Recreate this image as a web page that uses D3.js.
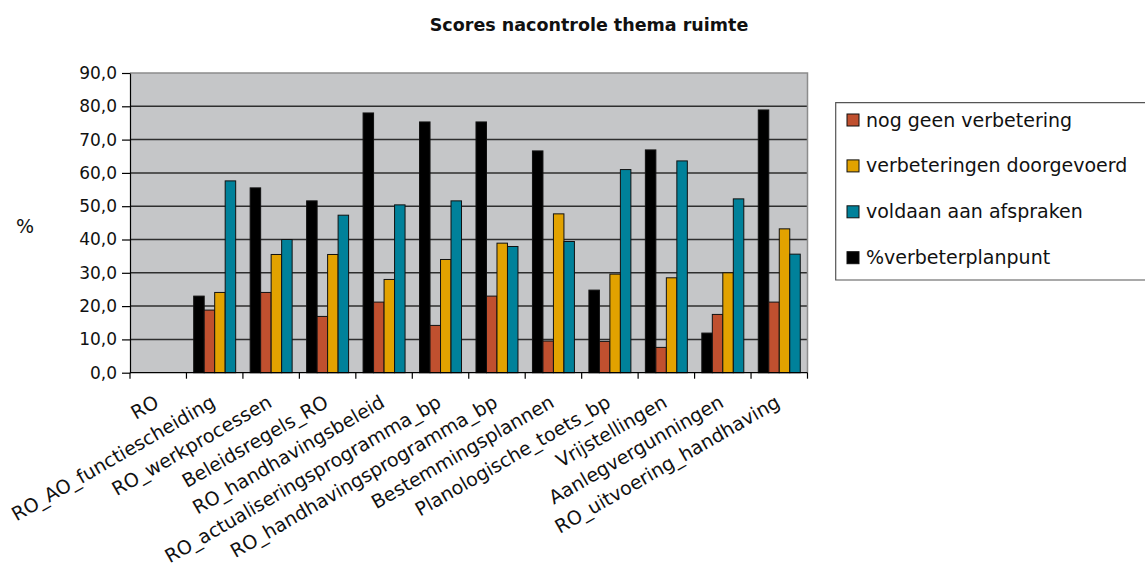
<!DOCTYPE html>
<html>
<head>
<meta charset="utf-8">
<script src="https://cdn.jsdelivr.net/npm/d3@7"></script>
<style>
  html, body { margin: 0; padding: 0; background: #ffffff; }
  svg { display: block; font-family: "DejaVu Sans", sans-serif; }
</style>
</head>
<body>
<svg id="chart" width="1145" height="566"></svg>
<script>
// Onderdelen van het thema ruimte
const categories = [
  "RO", "RO_AO_functiescheiding", "RO_werkprocessen", "Beleidsregels_RO",
  "RO_handhavingsbeleid", "RO_actualiseringsprogramma_bp", "RO_handhavingsprogramma_bp",
  "Bestemmingsplannen", "Planologische_toets_bp", "Vrijstellingen",
  "Aanlegvergunningen", "RO_uitvoering_handhaving"
];

// Scores per reeks (%), null = geen score
const verbeterplanpunt     = [null, 23.0, 55.5, 51.6, 78.0, 75.3, 75.3, 66.6, 24.8, 66.9, 11.9, 78.9];
const nogGeenVerbetering   = [null, 18.8, 24.1, 16.9, 21.2, 14.2, 23.0,  9.5,  9.4,  7.6, 17.5, 21.2];
const verbeteringenDoorgev = [null, 24.1, 35.5, 35.5, 28.0, 34.0, 38.9, 47.7, 29.6, 28.5, 30.0, 43.2];
const voldaanAanAfspraken  = [null, 57.6, 40.0, 47.3, 50.4, 51.6, 37.9, 39.4, 61.0, 63.6, 52.2, 35.6];

const yTicks = [0, 10, 20, 30, 40, 50, 60, 70, 80, 90];

// Reeksen in tekenvolgorde binnen een groep
const series = [
  { key: "verbeterplan", name: "%verbeterplanpunt",          values: verbeterplanpunt,     color: "#000000" },
  { key: "nogGeen",      name: "nog geen verbetering",       values: nogGeenVerbetering,   color: "#c0502f" },
  { key: "doorgevoerd",  name: "verbeteringen doorgevoerd",  values: verbeteringenDoorgev, color: "#e2a200" },
  { key: "voldaan",      name: "voldaan aan afspraken",      values: voldaanAanAfspraken,  color: "#00819a" }
];
// Volgorde in de legenda
const legendOrder = ["nogGeen", "doorgevoerd", "voldaan", "verbeterplan"];

const svg = d3.select("#chart");
const plot = { left: 130, right: 807.5, top: 73, bottom: 372.7 };

const nl = d3.formatLocale({ decimal: ",", thousands: ".", grouping: [3], currency: ["€", ""] });
const fmt = nl.format(".1f");

const x = d3.scaleBand().domain(categories).range([plot.left, plot.right]).paddingInner(0).paddingOuter(0);
const xs = d3.scaleBand().domain(series.map(s => s.key)).range([0, x.bandwidth()]).paddingInner(0).paddingOuter(0.69);
const y = d3.scaleLinear().domain([0, 90]).range([plot.bottom, plot.top]);

// Plotvlak
svg.append("rect")
  .attr("x", plot.left).attr("y", plot.top)
  .attr("width", plot.right - plot.left).attr("height", plot.bottom - plot.top)
  .attr("fill", "#c5c6c8");

// Rasterlijnen
svg.append("g").selectAll("line")
  .data(yTicks.filter(t => t > 0 && t < 90))
  .join("line")
  .attr("x1", plot.left).attr("x2", plot.right)
  .attr("y1", d => y(d)).attr("y2", d => y(d))
  .attr("stroke", "#2e2e2e").attr("stroke-width", 1.5);

// Rand boven en rechts
svg.append("path")
  .attr("d", `M${plot.left},${y(90)}H${plot.right}V${plot.bottom}`)
  .attr("fill", "none").attr("stroke", "#8c8c8c").attr("stroke-width", 1.5);

// Staven
const groups = svg.append("g").selectAll("g")
  .data(categories)
  .join("g")
  .attr("transform", d => `translate(${x(d)},0)`);

groups.selectAll("rect")
  .data((c, i) => series.map(s => ({ key: s.key, color: s.color, value: s.values[i] })).filter(d => d.value != null))
  .join("rect")
  .attr("x", d => xs(d.key))
  .attr("width", xs.bandwidth())
  .attr("y", d => y(d.value))
  .attr("height", d => y(0) - y(d.value))
  .attr("fill", d => d.color)
  .attr("stroke", "#111")
  .attr("stroke-width", 1);

// Y-as
const yAxis = svg.append("g")
  .attr("transform", `translate(${plot.left},0)`)
  .call(d3.axisLeft(y).tickValues(yTicks).tickFormat(fmt).tickSize(8).tickPadding(5).tickSizeOuter(0));
yAxis.select(".domain").attr("stroke", "#000").attr("stroke-width", 1.2);
yAxis.selectAll(".tick line").attr("stroke", "#000").attr("stroke-width", 1.2);
yAxis.selectAll(".tick text").attr("font-size", 17).attr("fill", "#111").attr("font-family", "DejaVu Sans");

// X-as met streepjes op de groepsgrenzen
svg.append("line")
  .attr("x1", plot.left).attr("x2", plot.right)
  .attr("y1", plot.bottom).attr("y2", plot.bottom)
  .attr("stroke", "#000").attr("stroke-width", 1.2);
const boundaries = categories.map(c => x(c)).concat([plot.right]);
svg.append("g").selectAll("line")
  .data(boundaries)
  .join("line")
  .attr("x1", d => d).attr("x2", d => d)
  .attr("y1", plot.bottom).attr("y2", plot.bottom + 6)
  .attr("stroke", "#000").attr("stroke-width", 1.2);

// Categorielabels, schuin
svg.append("g").selectAll("text")
  .data(categories)
  .join("text")
  .attr("transform", d => `translate(${x(d) + x.bandwidth() / 2 + 2},406) rotate(-30)`)
  .attr("text-anchor", "end")
  .attr("font-size", 19)
  .attr("fill", "#111")
  .text(d => d);

// Titel
svg.append("text")
  .attr("x", 589).attr("y", 31)
  .attr("text-anchor", "middle")
  .attr("font-size", 17.5)
  .attr("font-weight", "bold")
  .attr("fill", "#111")
  .text("Scores nacontrole thema ruimte");

// Y-astitel
svg.append("text")
  .attr("x", 25).attr("y", 233)
  .attr("text-anchor", "middle")
  .attr("font-size", 19)
  .attr("fill", "#111")
  .text("%");

// Legenda
const legend = svg.append("g");
legend.append("path")
  .attr("d", "M1146,102.7H835.7V280H1146")
  .attr("fill", "#fff").attr("stroke", "#555").attr("stroke-width", 1.2);

const legendItems = legendOrder.map(k => series.find(s => s.key === k));
const li = legend.selectAll("g.item")
  .data(legendItems)
  .join("g")
  .attr("class", "item")
  .attr("transform", (d, i) => `translate(847,${120 + i * 45.9})`);
li.append("rect")
  .attr("x", 0).attr("y", -6).attr("width", 12).attr("height", 12)
  .attr("fill", d => d.color).attr("stroke", "#111").attr("stroke-width", 1);
li.append("text")
  .attr("x", 19).attr("y", 6.5)
  .attr("font-size", 19)
  .attr("fill", "#111")
  .text(d => d.name);
</script>
</body>
</html>
